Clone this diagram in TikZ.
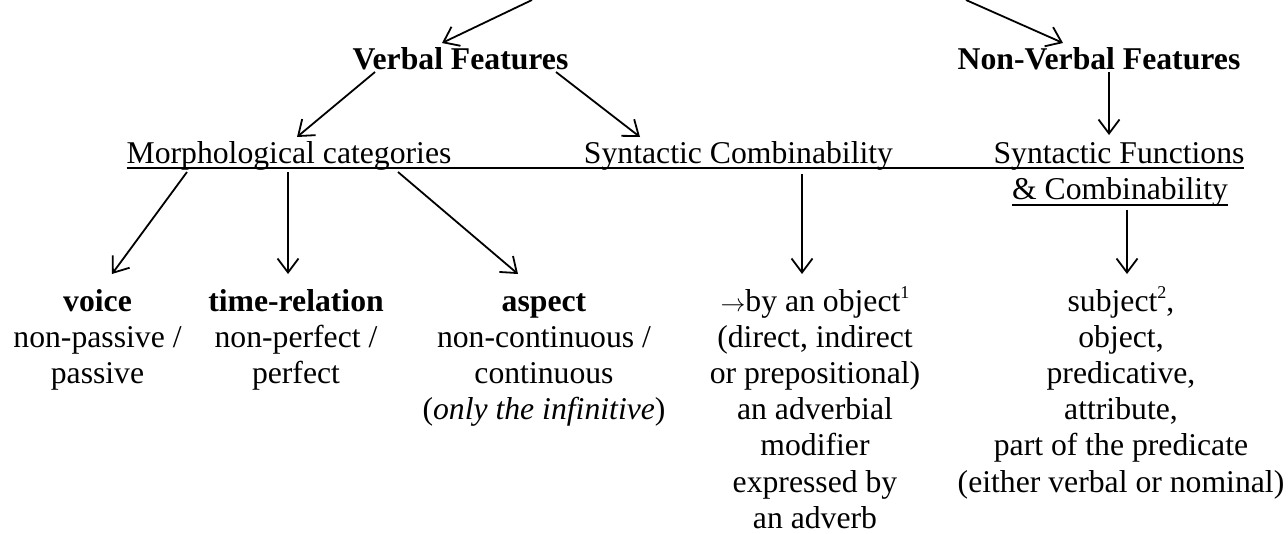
\documentclass[tikz,border=0pt]{standalone}
\usepackage{fontspec}
\setmainfont{Liberation Serif}
\usetikzlibrary{arrows.meta}
\newcommand\colstack[1]{\vtop{\baselineskip=36.2pt\lineskiplimit=-100pt\halign{\hfil##\hfil\cr#1\crcr}}}
\newcommand\supnum[1]{\raisebox{13pt}{\fontsize{18}{18}\selectfont #1}}
\tikzset{
  lbl/.style={inner sep=0pt, outer sep=0pt, anchor=base},
  hdr/.style={lbl, font={\fontsize{31.7}{36.2}\selectfont\bfseries}},
  arr/.style={line width=1.8pt, -{Straight Barb[length=14pt,width=21pt]}},
  uline/.style={line width=1.7pt}
}
\begin{document}
\begin{tikzpicture}[x=1pt, y=-1pt, font=\fontsize{31.7}{36.2}\selectfont]
\useasboundingbox (0,0) rectangle (1288,533);

% free ends from the (cut-off) title above
\coordinate (tl) at (532,0);
\coordinate (tr) at (966,0);

% level 1
\node[hdr] (vf)  at (460.5,69) {Verbal Features};
\node[hdr] (nvf) at (1099,69) {Non-Verbal Features};

% level 2
\node[lbl] (morph) at (289,163) {Morphological categories};
\node[lbl] (sc)    at (738.5,163) {Syntactic Combinability};
\node[lbl] (sf)    at (1119,163) {Syntactic Functions};
\node[lbl] (sf2)   at (1120,199) {\& Combinability};

% level 3
\node[lbl] (voice)  at (97.5,311) {\colstack{\textbf{voice}\cr non-passive /\cr passive}};
\node[lbl] (time)   at (296,311)  {\colstack{\textbf{time-relation}\cr non-perfect /\cr perfect}};
\node[lbl] (aspect) at (544,311)  {\colstack{\textbf{aspect}\cr non-continuous /\cr continuous\cr (\textit{only the infinitive})}};
\node[lbl] (obj)    at (815,311)  {\colstack{$\rightarrow$by an object\supnum{1}\cr (direct, indirect\cr or prepositional)\cr an adverbial\cr modifier\cr expressed by\cr an adverb}};
\node[lbl] (subj)   at (1121,311) {\colstack{subject\supnum{2},\cr object,\cr predicative,\cr attribute,\cr part of the predicate\cr (either verbal or nominal)}};

% underlines
\draw[uline] ([yshift=-5pt]morph.base west) -- ([yshift=-5pt]sf.base east);
\draw[uline] ([yshift=-6pt]sf2.base west) -- ([yshift=-6pt]sf2.base east);

% connectors
\draw[arr] (tl) -- ([xshift=-18.5pt,yshift=26pt]vf.base);
\draw[arr] (tr) -- ([xshift=-36pt,yshift=26pt]nvf.base);

\draw[arr] ([xshift=-85.5pt,yshift=-3pt]vf.base) -- ([xshift=8pt,yshift=26pt]morph.base);
\draw[arr] ([xshift=95.5pt,yshift=-3pt]vf.base) -- ([xshift=-98.5pt,yshift=26pt]sc.base);
\draw[arr] ([xshift=10pt,yshift=-3pt]nvf.base) -- ([xshift=-10pt,yshift=28pt]sf.base);

\draw[arr] ([xshift=-102pt,yshift=-9pt]morph.base) -- ([xshift=14.5pt,yshift=37pt]voice.base);
\draw[arr] ([xshift=-1pt,yshift=-9pt]morph.base) -- ([xshift=-8pt,yshift=37pt]time.base);
\draw[arr] ([xshift=109pt,yshift=-9pt]morph.base) -- ([xshift=-26pt,yshift=37pt]aspect.base);

\draw[arr] ([xshift=63.5pt,yshift=-11pt]sc.base) -- ([xshift=-13pt,yshift=37pt]obj.base);
\draw[arr] ([xshift=7pt,yshift=-11pt]sf2.base) -- ([xshift=6pt,yshift=37pt]subj.base);
\end{tikzpicture}
\end{document}
